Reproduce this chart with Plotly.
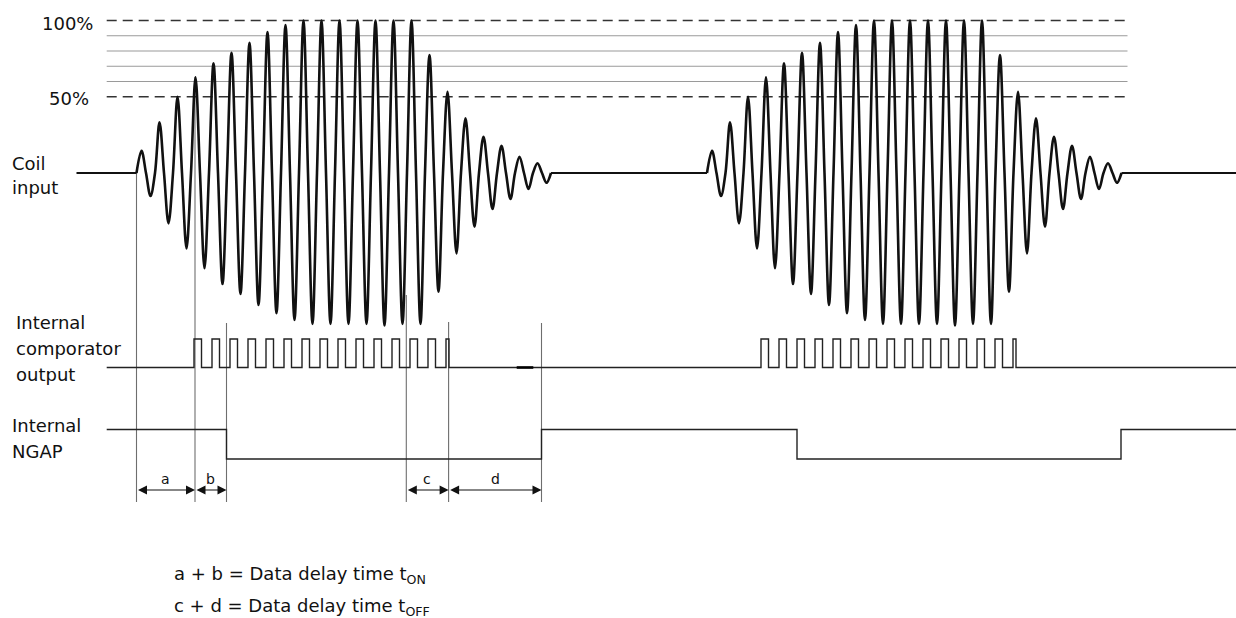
import plotly.graph_objects as go

W, H = 1236, 618

# ---------------- data ----------------
# Coil input: amplitude of every positive / negative half-cycle, in % of the 100% level
coil_peak_pct = [14.6, 33.2, 50.0, 62.7, 71.9, 78.9, 85.4, 92.5, 97.0, 100, 100, 100,
                 100, 100, 100, 100, 77.4, 53.3, 35.9, 23.8, 17.9, 10.7, 6.4]
coil_trough_pct = [15.1, 33.0, 49.4, 62.5, 72.8, 79.3, 86.6, 92.0, 96.4, 99.0, 99.0, 99.0,
                   99.0, 100.0, 99.0, 99.0, 77.8, 52.7, 35.2, 23.6, 17.0, 10.5, 6.4]
burst_start = [136.5, 707.0]          # time at which each RF burst begins
first_peak_delay = 5.0                # time from burst start to first crest
half_period = 9.0                     # carrier half period
burst_tail = 4.5                      # last trough -> back to rest level
coil_trace_start = 76.5
signal_trace_start = 106.7
trace_end = 1236.0

level_dashed_pct = [100, 50]
level_dashed_labels = ["100%", "50%"]
level_solid_pct = [90, 80, 70, 60]
level_line_end = 1127.5

# Internal comparator output: rise instants (relative to pulse-train start) and high widths
comp_train_start = [194.0, 761.0]
comp_rise_offsets = [0, 18, 36, 54, 72, 90, 108, 126, 144, 162, 180, 198, 216, 234, 252]
comp_high_widths = [7.5, 7.5, 7.5, 7.5, 7.5, 7.5, 7.5, 7.5, 7.5, 7.5, 7.5, 7.5, 7.5, 7.5, 3.0]
comp_glitch = [516.7, 533.3]

# Internal NGAP
ngap_fall = [226.5, 797.0]
ngap_rise = [541.5, 1121.0]

# timing markers and intervals
mark_x = [136.5, 195.0, 226.5, 406.3, 448.6, 541.5]
interval_names = ["a", "b", "c", "d"]
interval_from = [136.5, 195.0, 406.3, 448.6]
interval_to = [195.0, 226.5, 448.6, 541.5]

# ---------------- layout constants (pixel-like diagram units) ----------------
COIL_BASE = 173.0
COIL_FULL = 152.5
COMP_LOW, COMP_HIGH = 367.5, 339.0
NGAP_HIGH, NGAP_LOW = 429.5, 459.0
ARROW_Y = 490.0
MARK_BOTTOM = 502.0
MARK_TOP = [173.0, 77.0, 323.0, 295.0, 322.0, 323.0]

FONT = "DejaVu Sans"
BLACK = "#111111"

# coil % axis range so that 0% sits on COIL_BASE and 100% on COIL_BASE-COIL_FULL
span = H * 100.0 / COIL_FULL
coil_hi = COIL_BASE * 100.0 / COIL_FULL
coil_lo = coil_hi - span

fig = go.Figure()


def burst_points(t0):
    xs, ys = [t0], [0.0]
    prev_t = None
    for i in range(len(coil_peak_pct)):
        for j, v in enumerate((coil_peak_pct[i], -coil_trough_pct[i])):
            t = t0 + first_peak_delay + (2 * i + j) * half_period
            if prev_t is not None:
                xs.append((prev_t + t) / 2.0)
                ys.append(0.0)
            xs.append(t)
            ys.append(v)
            prev_t = t
    xs.append(prev_t + burst_tail)
    ys.append(0.0)
    return xs, ys


# reference level lines
for p in level_solid_pct:
    fig.add_trace(go.Scatter(x=[signal_trace_start, level_line_end], y=[p, p], yaxis="y2",
                             mode="lines", line=dict(color="#9a9a9a", width=1.2),
                             hoverinfo="skip"))
for p in level_dashed_pct:
    fig.add_trace(go.Scatter(x=[signal_trace_start, level_line_end], y=[p, p], yaxis="y2",
                             mode="lines", line=dict(color="#333333", width=1.6, dash="10px,6px"),
                             hoverinfo="skip"))

# timing marker lines
for x, top in zip(mark_x, MARK_TOP):
    fig.add_trace(go.Scatter(x=[x, x], y=[top, MARK_BOTTOM], mode="lines",
                             line=dict(color="#6e6e6e", width=1.1), hoverinfo="skip"))

# coil input: rest-level segments and the two bursts
bursts = [burst_points(t0) for t0 in burst_start]
rest_x, rest_y = [], []
seg_starts = [coil_trace_start] + [b[0][-1] for b in bursts]
seg_ends = [b[0][0] for b in bursts] + [trace_end]
for s, e in zip(seg_starts, seg_ends):
    rest_x += [s, e, None]
    rest_y += [0, 0, None]
fig.add_trace(go.Scatter(x=rest_x, y=rest_y, yaxis="y2", mode="lines",
                         line=dict(color=BLACK, width=2.2), hoverinfo="skip"))
for bx, by in bursts:
    fig.add_trace(go.Scatter(x=bx, y=by, yaxis="y2", mode="lines",
                             line=dict(color=BLACK, width=2.6, shape="spline", smoothing=1.0),
                             hoverinfo="skip"))

# comparator output
cx, cy = [signal_trace_start], [COMP_LOW]
for t0 in comp_train_start:
    for off, w in zip(comp_rise_offsets, comp_high_widths):
        r = t0 + off
        cx += [r, r, r + w, r + w]
        cy += [COMP_LOW, COMP_HIGH, COMP_HIGH, COMP_LOW]
cx.append(trace_end)
cy.append(COMP_LOW)
fig.add_trace(go.Scatter(x=cx, y=cy, mode="lines", line=dict(color="#222222", width=1.4),
                         hoverinfo="skip"))
fig.add_trace(go.Scatter(x=comp_glitch, y=[COMP_LOW, COMP_LOW], mode="lines",
                         line=dict(color="#000000", width=2.6), hoverinfo="skip"))

# NGAP
nx, ny = [signal_trace_start], [NGAP_HIGH]
for f, r in zip(ngap_fall, ngap_rise):
    nx += [f, f, r, r]
    ny += [NGAP_HIGH, NGAP_LOW, NGAP_LOW, NGAP_HIGH]
nx.append(trace_end)
ny.append(NGAP_HIGH)
fig.add_trace(go.Scatter(x=nx, y=ny, mode="lines", line=dict(color="#222222", width=1.4),
                         hoverinfo="skip"))

annotations = []
# interval arrows + letters
for name, a, b in zip(interval_names, interval_from, interval_to):
    annotations.append(dict(x=b, y=ARROW_Y, ax=a, ay=ARROW_Y, xref="x", yref="y",
                            axref="x", ayref="y", text="", showarrow=True,
                            arrowhead=2, startarrowhead=2, arrowside="end+start",
                            arrowsize=1.5, startarrowsize=1.5, arrowwidth=1.2,
                            arrowcolor=BLACK, standoff=0, startstandoff=0))
    annotations.append(dict(x=(a + b) / 2, y=ARROW_Y - 11, xref="x", yref="y",
                            text=name, showarrow=False, xanchor="center", yanchor="middle",
                            font=dict(family=FONT, size=14, color=BLACK)))

# labels
labels = [
    (level_dashed_labels[0], 39.5, 23.0),
    (level_dashed_labels[1], 46.6, 98.0),
    ("Coil", 9.9, 163.5),
    ("input", 9.9, 187.0),
    ("Internal", 13.8, 322.5),
    ("comporator", 13.8, 348.0),
    ("output", 13.8, 374.0),
    ("Internal", 9.9, 425.0),
    ("NGAP", 9.9, 451.5),
    ("a + b = Data delay time t<sub>ON</sub>", 172.0, 575.0),
    ("c + d = Data delay time t<sub>OFF</sub>", 172.0, 607.0),
]
for txt, x, y in labels:
    annotations.append(dict(x=x, y=y, xref="x", yref="y", text=txt, showarrow=False,
                            xanchor="left", yanchor="middle",
                            font=dict(family=FONT, size=18, color=BLACK)))

fig.update_layout(
    width=W, height=H,
    margin=dict(l=0, r=0, t=0, b=0),
    paper_bgcolor="white", plot_bgcolor="white",
    showlegend=False,
    xaxis=dict(range=[0, W], visible=False, fixedrange=True),
    yaxis=dict(range=[H, 0], visible=False, fixedrange=True),
    yaxis2=dict(range=[coil_lo, coil_hi], overlaying="y", visible=False, fixedrange=True),
    annotations=annotations,
)

fig.write_html("out.html", config={"displayModeBar": False, "staticPlot": True},
               post_script="document.body.style.margin='0';document.body.style.overflow='hidden';")
